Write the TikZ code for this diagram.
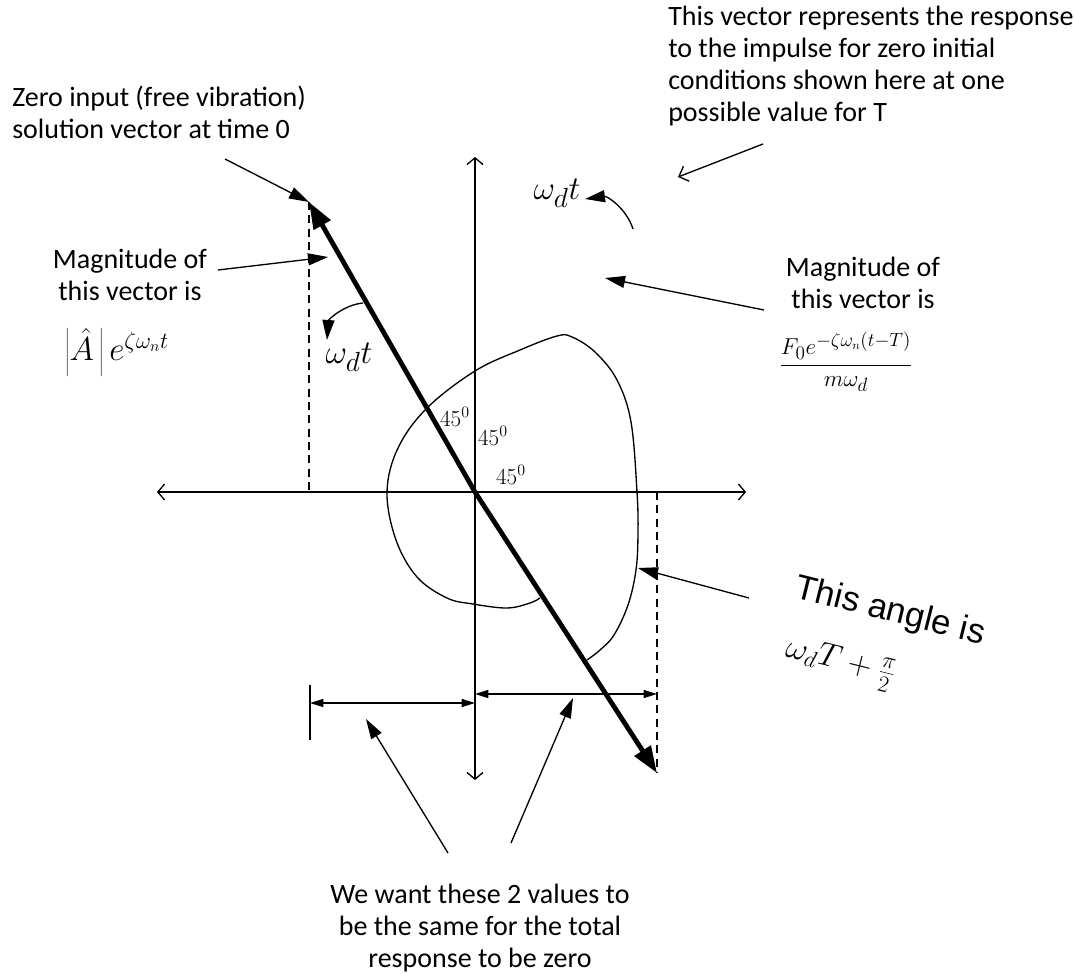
\documentclass[tikz,border=0pt]{standalone}
\usepackage{fontspec}
\setmainfont{Carlito}
\newfontfamily\arialfont{Liberation Sans}
\usetikzlibrary{arrows.meta}
\begin{document}
\begin{tikzpicture}[x=0.75pt,y=0.75pt,
  thinl/.style={line width=1pt},
  axis/.style={line width=1pt,{Straight Barb[length=5pt,width=12pt]}-{Straight Barb[length=5pt,width=12pt]}},
  vec/.style={line width=3.6pt,-{Triangle[length=20pt,width=14pt]}},
  dashl/.style={line width=1pt,dash pattern=on 6pt off 4pt},
  dim/.style={line width=1pt,{Triangle[length=10pt,width=6pt]}-{Triangle[length=10pt,width=6pt]}},
  pointer/.style={line width=1pt,-{Triangle[length=15pt,width=9pt]}},
  openptr/.style={line width=1pt,-{Straight Barb[length=6pt,width=12pt]}},
  lbl/.style={font=\fontsize{21}{24}\selectfont,align=center,inner sep=0pt},
  mth/.style={inner sep=0pt}]
\useasboundingbox (0,0) rectangle (1074,-974);
% key points
\coordinate (O) at (475,-492);
\coordinate (xl) at (157,-492); \coordinate (xr) at (746,-492);
\coordinate (yt) at (475,-157); \coordinate (yb) at (475,-780);
\coordinate (A) at (309,-202); \coordinate (B) at (657,-773);
\coordinate (Ax) at (309,-492); \coordinate (Bx) at (657,-492);
% axes
\draw[axis] (xl) -- (xr);
\draw[axis] (yb) -- (yt);
% dashed projections
\draw[dashl] (A) -- (Ax);
\draw[dashl] (Bx) -- (B);
% vectors
\draw[vec] (O) -- (A);
\draw[vec] (O) -- (B);
% angle curve
\draw[thinl] plot[smooth, tension=0.6] coordinates {
 (540,-598) (530,-603) (507,-608) (473,-604) (447,-598) (417,-577) (396,-540)
 (387,-492) (398,-448) (427,-408) (475,-371) (520,-350) (557,-336) (572,-337)
 (595,-352) (617,-380) (631,-422) (637,-492) (638,-533) (636,-570) (628,-605)
 (614,-635) (600,-650) (587,-660)};
% dimension lines
\coordinate (L1) at (310,-703); \coordinate (L2) at (475,-703);
\coordinate (Lt) at (310,-685); \coordinate (Lb) at (310,-740);
\coordinate (R1) at (475,-694); \coordinate (R2) at (657,-694);
\draw[thinl] (Lt) -- (Lb);
\draw[dim] (L1) -- (L2);
\draw[dim] (R1) -- (R2);
% texts
\node[lbl,align=left,anchor=west] (zero) at (12,-112)
  {Zero input (free vibration)\\solution vector at time 0};
\node[lbl,align=left,anchor=west] (resp) at (668,-66)
  {This vector represents the response\\to the impulse for zero initial\\conditions shown here at one\\possible value for T};
\node[lbl] (magL) at (130,-275) {Magnitude of\\this vector is};
\node[mth,font=\fontsize{23}{26}\selectfont] (fL) at (117,-352)
  {$\left|\hat{A}\,\right|e^{\zeta\omega_n t}$};
\node[lbl] (magR) at (863,-283) {Magnitude of\\this vector is};
\node[mth,font=\fontsize{19}{22}\selectfont] (fR) at (846,-362)
  {$\displaystyle\frac{F_0e^{-\zeta\omega_n(t-T)}}{m\omega_d}$};
\node[lbl] (bot) at (480,-928)
  {We want these 2 values to\\be the same for the total\\response to be zero};
\node[mth,font=\fontsize{17}{19}\selectfont] (a1) at (455,-417) {$45^0$};
\node[mth,font=\fontsize{17}{19}\selectfont] (a2) at (493,-436) {$45^0$};
\node[mth,font=\fontsize{17}{19}\selectfont] (a3) at (511,-475) {$45^0$};
\node[mth,font=\fontsize{29}{32}\selectfont] (wL) at (349,-357) {$\omega_d t$};
\node[mth,font=\fontsize{29}{32}\selectfont] (wT) at (557,-193) {$\omega_d t$};
\node[inner sep=0pt,rotate=-14,font=\arialfont\fontsize{26}{30}\selectfont] (ang) at (890,-612) {This angle is};
\node[mth,rotate=-14,font=\fontsize{25}{28}\selectfont] (angf) at (840,-664) {$\omega_d T+\frac{\pi}{2}$};
% pointer start points
\coordinate (p1) at (225,-159);
\coordinate (p2s) at (218,-270); \coordinate (p2e) at (328,-257);
\coordinate (p3s) at (363,-303); \coordinate (p3e) at (327,-340);
\coordinate (p4s) at (633,-229); \coordinate (p4e) at (585,-199);
\coordinate (p5s) at (763,-144); \coordinate (p5e) at (678,-177);
\coordinate (p6s) at (764,-310); \coordinate (p6e) at (605,-278);
\coordinate (p7s) at (749,-598); \coordinate (p7e) at (638,-568);
\coordinate (p8s) at (448,-853); \coordinate (p8e) at (366,-719);
\coordinate (p9s) at (511,-843); \coordinate (p9e) at (573,-698);
% pointers
\draw[pointer] (p1) -- (A);
\draw[pointer] (p2s) -- (p2e);
\draw[pointer] (p3s) to[bend right=40] (p3e);
\draw[pointer] (p4s) to[bend right=40] (p4e);
\draw[openptr] (p5s) -- (p5e);
\draw[pointer] (p6s) -- (p6e);
\draw[pointer] (p7s) -- (p7e);
\draw[pointer] (p8s) -- (p8e);
\draw[pointer] (p9s) -- (p9e);
\end{tikzpicture}
\end{document}
